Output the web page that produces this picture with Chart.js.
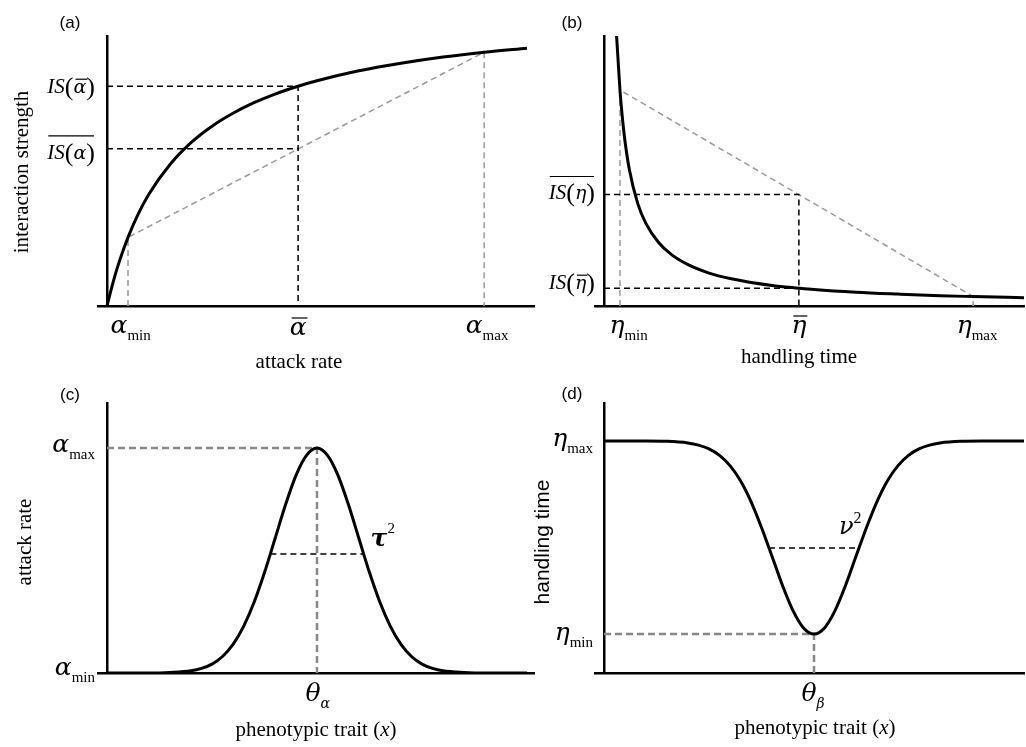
<!DOCTYPE html>
<html>
<head>
<meta charset="utf-8">
<script src="https://cdn.jsdelivr.net/npm/chart.js@4.4.1/dist/chart.umd.min.js"></script>
<style>
  html, body { margin: 0; padding: 0; background: #fff; }
  #wrap { position: relative; width: 1026px; height: 747px; }
  #wrap canvas { position: absolute; left: 0; top: 0; }
</style>
</head>
<body>
<div id="wrap">
  <canvas id="chartA" width="1026" height="747"></canvas>
  <canvas id="chartB" width="1026" height="747"></canvas>
  <canvas id="chartC" width="1026" height="747"></canvas>
  <canvas id="chartD" width="1026" height="747"></canvas>
</div>
<script>
// ---------------------------------------------------------------------------
// Data (axes scaled 0..1)
// ---------------------------------------------------------------------------

// (a) interaction strength vs attack rate
const aCurveX = [0, 0.01, 0.02, 0.03, 0.05, 0.075, 0.1, 0.15, 0.2, 0.25, 0.3, 0.35, 0.4, 0.455, 0.5, 0.6, 0.7, 0.8, 0.898, 1.0];
const aCurveY = [0, 0.062, 0.118, 0.168, 0.254, 0.343, 0.415, 0.524, 0.605, 0.666, 0.714, 0.753, 0.785, 0.814, 0.834, 0.871, 0.899, 0.922, 0.940, 0.955];
const aRateX = [0.05, 0.455, 0.898];      // alpha_min, alpha_bar, alpha_max
const aStrengthY = [0.254, 0.814, 0.940]; // IS at those rates
const aMeanY = 0.582;                     // mean of IS(alpha)

// (b) interaction strength vs handling time
const bCurveX = [0.030, 0.033, 0.038, 0.045, 0.05, 0.06, 0.08, 0.1, 0.13, 0.16, 0.2, 0.25, 0.3, 0.4, 0.464, 0.5, 0.6, 0.7, 0.8, 0.879, 1.0];
const bCurveY = [1.0, 0.924, 0.80, 0.678, 0.61, 0.508, 0.381, 0.305, 0.235, 0.191, 0.153, 0.122, 0.102, 0.076, 0.066, 0.061, 0.051, 0.044, 0.038, 0.035, 0.031];
const bTimeX = [0.038, 0.464, 0.879];     // eta_min, eta_bar, eta_max
const bStrengthY = [0.80, 0.066, 0.035];
const bMeanY = 0.413;

// (c) attack rate vs phenotypic trait
const cTraitX = [0, 0.1, 0.15, 0.2, 0.225, 0.25, 0.275, 0.3, 0.325, 0.35, 0.375, 0.4, 0.425, 0.45, 0.475, 0.5,
                 0.525, 0.55, 0.575, 0.6, 0.625, 0.65, 0.675, 0.7, 0.725, 0.75, 0.775, 0.8, 0.85, 0.9, 1.0];
const cAttackY = [0, 0, 0.002, 0.008, 0.017, 0.033, 0.061, 0.106, 0.172, 0.261, 0.372, 0.497, 0.623, 0.732, 0.806, 0.833,
                  0.806, 0.732, 0.623, 0.497, 0.372, 0.261, 0.172, 0.106, 0.061, 0.033, 0.017, 0.008, 0.002, 0, 0];
const cPeak = [0.5, 0.833];               // theta_alpha, alpha_max
const cHalfX = [0.389, 0.611];            // tau^2 width
const cHalfY = 0.441;

// (d) handling time vs phenotypic trait
const dTraitX = [0, 0.1, 0.15, 0.2, 0.225, 0.25, 0.275, 0.3, 0.325, 0.35, 0.375, 0.4, 0.425, 0.45, 0.475, 0.5,
                 0.525, 0.55, 0.575, 0.6, 0.625, 0.65, 0.675, 0.7, 0.725, 0.75, 0.775, 0.8, 0.85, 0.9, 1.0];
const dHandlingY = [0.859, 0.859, 0.858, 0.852, 0.844, 0.830, 0.806, 0.768, 0.712, 0.635, 0.539, 0.432, 0.324, 0.231, 0.167, 0.144,
                    0.167, 0.231, 0.324, 0.432, 0.539, 0.635, 0.712, 0.768, 0.806, 0.830, 0.844, 0.852, 0.858, 0.859, 0.859];
const dMin = [0.5, 0.144];                // theta_beta, eta_min
const dMaxY = 0.859;                      // eta_max
const dHalfX = [0.393, 0.607];            // nu^2 width
const dHalfY = 0.463;

// ---------------------------------------------------------------------------
// Styles
// ---------------------------------------------------------------------------
const SERIF = '"Liberation Serif", "DejaVu Serif", serif';
const GREEK = '"DejaVu Serif", "Liberation Serif", serif';
const SANS = '"Liberation Sans", Arial, sans-serif';
const fGreek = `italic 25px ${GREEK}`;
const fGreekMid = `italic 19px ${GREEK}`;
const fSub = `15px ${SERIF}`;
const fSubIt = `italic 14px ${GREEK}`;
const fIS = `italic 21px ${SERIF}`;
const fParen = `26px ${SERIF}`;
const fTitle = `21px ${SERIF}`;
const fTitleIt = `italic 21px ${SERIF}`;
const fTag = `17px ${SANS}`;

const BLACK_DASH = { color: '#000', width: 1.5, dash: [6, 4] };
const LIGHT_DASH = { color: '#9a9a9a', width: 1.5, dash: [6, 4] };
const GREY_DASH = { color: '#888888', width: 2.5, dash: [7, 4] };

const pts = (xs, ys) => xs.map((x, i) => ({ x, y: ys[i] }));

function curve(xs, ys) {
    return {
        data: pts(xs, ys),
        borderColor: '#000',
        borderWidth: 3,
        cubicInterpolationMode: 'monotone',
        pointRadius: 0
    };
}

function dashed(points, style) {
    return {
        data: points,
        borderColor: style.color,
        borderWidth: style.width,
        borderDash: style.dash,
        tension: 0,
        pointRadius: 0
    };
}

// ---------------------------------------------------------------------------
// Math-ish label drawing (subscripts, bars, overlines)
// ---------------------------------------------------------------------------
const sub = (g, s, f) => [{ t: g, f: fGreek }, { t: s, f: f || fSub, dy: 7 }];
const isOf = (g, bar) => [
    { t: 'IS', f: fIS },
    { t: '(', f: fParen, dy: 2 },
    { t: g, f: fGreekMid, bar: bar ? 14 : 0 },
    { t: ')', f: fParen, dy: 2 }
];

function drawLabel(ctx, l) {
    ctx.save();
    ctx.fillStyle = '#000';
    ctx.strokeStyle = '#000';
    ctx.textAlign = 'left';
    ctx.textBaseline = l.base || 'alphabetic';
    let ox = l.x, oy = l.y;
    if (l.rot) {
        ctx.translate(l.x, l.y);
        ctx.rotate(-Math.PI / 2);
        ox = 0; oy = 0;
    }
    const widths = l.runs.map(r => { ctx.font = r.f; return ctx.measureText(r.t).width; });
    const total = widths.reduce((a, b) => a + b, 0);
    let cx = ox;
    if (l.align === 'right') cx = ox - total;
    else if (l.align === 'center') cx = ox - total / 2;
    else if (l.align === 'first') cx = ox - widths[0] / 2;
    const start = cx;
    l.runs.forEach((r, i) => {
        ctx.font = r.f;
        ctx.fillText(r.t, cx, oy + (r.dy || 0));
        if (r.bar) {
            ctx.lineWidth = 1.2;
            ctx.beginPath();
            ctx.moveTo(cx + 2, oy - r.bar);
            ctx.lineTo(cx + widths[i] + 1, oy - r.bar);
            ctx.stroke();
        }
        cx += widths[i];
    });
    if (l.over) {
        ctx.lineWidth = 1.2;
        ctx.beginPath();
        ctx.moveTo(start + 1, oy - l.over);
        ctx.lineTo(start + total - 1, oy - l.over);
        ctx.stroke();
    }
    ctx.restore();
}

function textLayer(id, build) {
    return {
        id,
        afterDraw(chart) {
            const xs = chart.scales.x, ys = chart.scales.y;
            const X = v => xs.getPixelForValue(v);
            const Y = v => ys.getPixelForValue(v);
            build(X, Y).forEach(l => drawLabel(chart.ctx, l));
        }
    };
}

function panelChart(canvasId, area, datasets, layer) {
    const axis = { color: '#000', width: 2.5 };
    return new Chart(document.getElementById(canvasId), {
        type: 'line',
        data: { datasets },
        options: {
            responsive: false,
            animation: false,
            events: [],
            layout: {
                padding: { left: area.left, top: area.top, right: 1026 - area.right, bottom: 747 - area.bottom }
            },
            plugins: { legend: { display: false }, tooltip: { enabled: false } },
            scales: {
                x: {
                    type: 'linear', min: -9 / 420, max: (area.right - area.left - 9) / 420,
                    grid: { display: false, drawTicks: false },
                    ticks: { display: false },
                    border: axis
                },
                y: {
                    type: 'linear', min: 0, max: 1,
                    position: { x: 0 },
                    grid: { display: false, drawTicks: false },
                    ticks: { display: false },
                    border: axis
                }
            }
        },
        plugins: [layer]
    });
}

// ---------------------------------------------------------------------------
// (a)
// ---------------------------------------------------------------------------
panelChart('chartA', { left: 98, right: 534, top: 36, bottom: 306 }, [
    curve(aCurveX, aCurveY),
    dashed([{ x: 0, y: aStrengthY[1] }, { x: aRateX[1], y: aStrengthY[1] }, { x: aRateX[1], y: 0 }], BLACK_DASH),
    dashed([{ x: 0, y: aMeanY }, { x: aRateX[1], y: aMeanY }], BLACK_DASH),
    dashed([{ x: aRateX[0], y: 0 }, { x: aRateX[0], y: aStrengthY[0] },
            { x: aRateX[2], y: aStrengthY[2] }, { x: aRateX[2], y: 0 }], LIGHT_DASH)
], textLayer('labelsA', (X, Y) => [
    { x: 70, y: 23, runs: [{ t: '(a)', f: fTag }], align: 'center', base: 'middle' },
    { x: X(aRateX[0]) - 9, y: Y(0) + 27, runs: sub('α', 'min'), align: 'first' },
    { x: X(aRateX[1]), y: Y(0) + 29, runs: [{ t: 'α', f: fGreek, bar: 17 }], align: 'center' },
    { x: X(aRateX[2]) - 10, y: Y(0) + 27, runs: sub('α', 'max'), align: 'first' },
    { x: 95, y: Y(aStrengthY[1]) + 7, runs: isOf('α', true), align: 'right' },
    { x: 95, y: Y(aMeanY) + 10, runs: isOf('α', false), align: 'right', over: 23 },
    { x: 22, y: 172, runs: [{ t: 'interaction strength', f: fTitle }], align: 'center', base: 'middle', rot: true },
    { x: 299, y: 368, runs: [{ t: 'attack rate', f: fTitle }], align: 'center' }
]));

// ---------------------------------------------------------------------------
// (b)
// ---------------------------------------------------------------------------
panelChart('chartB', { left: 595, right: 1024, top: 36, bottom: 306 }, [
    curve(bCurveX, bCurveY),
    dashed([{ x: 0, y: bMeanY }, { x: bTimeX[1], y: bMeanY }, { x: bTimeX[1], y: 0 }], BLACK_DASH),
    dashed([{ x: 0, y: bStrengthY[1] }, { x: bTimeX[1], y: bStrengthY[1] }], BLACK_DASH),
    dashed([{ x: bTimeX[0], y: 0 }, { x: bTimeX[0], y: bStrengthY[0] },
            { x: bTimeX[2], y: bStrengthY[2] }, { x: bTimeX[2], y: 0 }], LIGHT_DASH)
], textLayer('labelsB', (X, Y) => [
    { x: 572, y: 23, runs: [{ t: '(b)', f: fTag }], align: 'center', base: 'middle' },
    { x: X(bTimeX[0]) - 3, y: Y(0) + 27, runs: sub('η', 'min'), align: 'first' },
    { x: X(bTimeX[1]), y: Y(0) + 27, runs: [{ t: 'η', f: fGreek, bar: 17 }], align: 'center' },
    { x: X(bTimeX[2]) - 9, y: Y(0) + 27, runs: sub('η', 'max'), align: 'first' },
    { x: 595, y: Y(bMeanY) + 5, runs: isOf('η', false), align: 'right', over: 23 },
    { x: 595, y: Y(bStrengthY[1]) + 1, runs: isOf('η', true), align: 'right' },
    { x: 799, y: 363, runs: [{ t: 'handling time', f: fTitle }], align: 'center' }
]));

// ---------------------------------------------------------------------------
// (c)
// ---------------------------------------------------------------------------
panelChart('chartC', { left: 98, right: 534, top: 403, bottom: 673 }, [
    curve(cTraitX, cAttackY),
    dashed([{ x: 0, y: cPeak[1] }, { x: cPeak[0], y: cPeak[1] }, { x: cPeak[0], y: 0 }], GREY_DASH),
    dashed([{ x: cHalfX[0], y: cHalfY }, { x: cHalfX[1], y: cHalfY }], BLACK_DASH)
], textLayer('labelsC', (X, Y) => [
    { x: 70, y: 395, runs: [{ t: '(c)', f: fTag }], align: 'center', base: 'middle' },
    { x: 95, y: Y(cPeak[1]) + 4, runs: sub('α', 'max'), align: 'right' },
    { x: 95, y: Y(0) + 2, runs: sub('α', 'min'), align: 'right' },
    { x: X(cPeak[0]) - 4, y: Y(0) + 28, runs: sub('θ', 'α', fSubIt), align: 'first' },
    { x: X(cHalfX[1]) + 7, y: Y(cHalfY) - 8,
      runs: [{ t: 'τ', f: `italic bold 25px ${GREEK}` }, { t: '2', f: `15px ${SERIF}`, dy: -13 }], align: 'left' },
    { x: 25, y: 542, runs: [{ t: 'attack rate', f: fTitle }], align: 'center', base: 'middle', rot: true },
    { x: 316, y: 736, runs: [{ t: 'phenotypic trait (', f: fTitle }, { t: 'x', f: fTitleIt }, { t: ')', f: fTitle }], align: 'center' }
]));

// ---------------------------------------------------------------------------
// (d)
// ---------------------------------------------------------------------------
panelChart('chartD', { left: 595, right: 1024, top: 403, bottom: 673 }, [
    curve(dTraitX, dHandlingY),
    dashed([{ x: 0, y: dMin[1] }, { x: dMin[0], y: dMin[1] }, { x: dMin[0], y: 0 }], GREY_DASH),
    dashed([{ x: dHalfX[0], y: dHalfY }, { x: dHalfX[1], y: dHalfY }], BLACK_DASH)
], textLayer('labelsD', (X, Y) => [
    { x: 572, y: 394, runs: [{ t: '(d)', f: fTag }], align: 'center', base: 'middle' },
    { x: 593, y: Y(dMaxY) + 5, runs: sub('η', 'max'), align: 'right' },
    { x: 593, y: Y(dMin[1]) + 6, runs: sub('η', 'min'), align: 'right' },
    { x: X(dMin[0]) - 5, y: Y(0) + 28, runs: sub('θ', 'β', fSubIt), align: 'first' },
    { x: X(dHalfX[1]) - 20, y: Y(dHalfY) - 14,
      runs: [{ t: 'ν', f: `italic 24px ${GREEK}` }, { t: '2', f: `16px ${SERIF}`, dy: -11 }], align: 'left' },
    { x: 543, y: 542, runs: [{ t: 'handling time', f: `21px ${SANS}` }], align: 'center', base: 'middle', rot: true },
    { x: 815, y: 734, runs: [{ t: 'phenotypic trait (', f: fTitle }, { t: 'x', f: fTitleIt }, { t: ')', f: fTitle }], align: 'center' }
]));
</script>
</body>
</html>
